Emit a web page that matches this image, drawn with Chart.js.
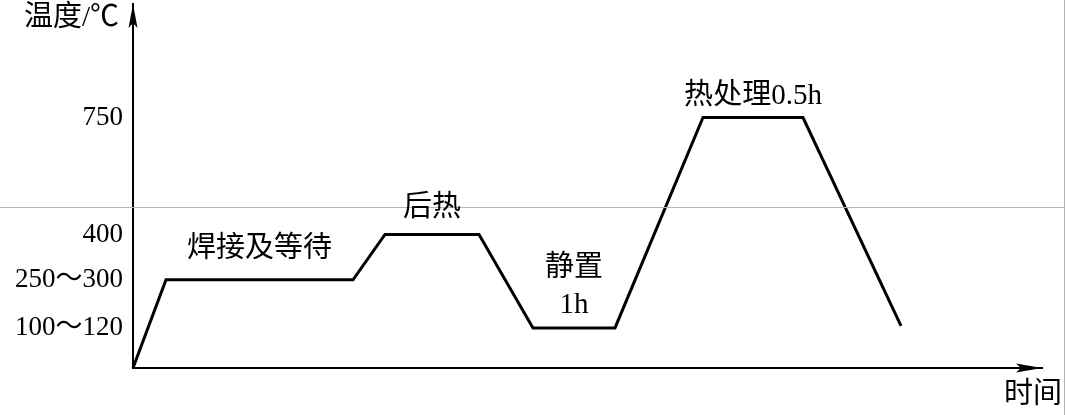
<!DOCTYPE html>
<html>
<head>
<meta charset="utf-8">
<script src="https://cdn.jsdelivr.net/npm/chart.js@4"></script>
<style>
    html, body { margin: 0; padding: 0; background: #fff; }
    #wrap { width: 1066px; height: 415px; position: relative; }
</style>
</head>
<body>
<div id="wrap"><canvas id="processChart"></canvas></div>
<script>
// --- Data (time in arbitrary units, temperature in °C as drawn) ---
const timePoints = [0, 3.3, 22.0, 25.2, 34.6, 40.0, 48.2, 57.0, 67.0, 76.8];
const tempPoints = [0, 264, 264, 400, 400, 120, 120, 750, 750, 126];
const tickValues = [120, 264, 400, 750];
const tickLabels = ['100～120', '250～300', '400', '750'];

// stage labels: text, point index pair of the plateau they sit over
const stageTexts = ['焊接及等待', '后热', '静置', '1h', '热处理0.5h'];
const stagePlateaus = [[1, 2], [3, 4], [5, 6], [5, 6], [7, 8]];

const CJK = "'Liberation Serif', 'Noto Sans CJK SC', serif";

// --- Decorations: axis arrows, titles, stage texts ---
const decorPlugin = {
    id: 'decor',
    afterDatasetsDraw(chart) {
        const { ctx, chartArea, scales } = chart;
        const x = scales.x, y = scales.y;
        ctx.save();

        // faint scan line across the page
        ctx.strokeStyle = '#b4b4b4';
        ctx.lineWidth = 1;
        ctx.beginPath();
        ctx.moveTo(0, 207.5);
        ctx.lineTo(1064, 207.5);
        ctx.moveTo(1064.5, 0);
        ctx.lineTo(1064.5, 415);
        ctx.stroke();

        // arrow heads
        ctx.fillStyle = '#000';
        const ax = chartArea.left, ay = chartArea.bottom;
        ctx.beginPath();
        ctx.moveTo(ax, chartArea.top);
        ctx.lineTo(ax + 4.5, chartArea.top + 24);
        ctx.lineTo(ax, chartArea.top + 19);
        ctx.lineTo(ax - 4.5, chartArea.top + 24);
        ctx.closePath();
        ctx.fill();
        ctx.beginPath();
        ctx.moveTo(chartArea.right, ay);
        ctx.lineTo(chartArea.right - 26, ay - 4.5);
        ctx.lineTo(chartArea.right - 21, ay);
        ctx.lineTo(chartArea.right - 26, ay + 4.5);
        ctx.closePath();
        ctx.fill();

        // axis titles
        ctx.font = '29px ' + CJK;
        ctx.textBaseline = 'middle';
        ctx.textAlign = 'right';
        ctx.fillText('温度/℃', ax - 14, 18);
        ctx.fillText('时间', 1062, 395);

        // stage texts over plateaus
        const offsets = [-30, -26, -60, -23, -21];
        ctx.font = '29px ' + CJK;
        ctx.textAlign = 'center';
        stageTexts.forEach((txt, i) => {
            const [a, b] = stagePlateaus[i];
            const cx = (x.getPixelForValue(timePoints[a]) + x.getPixelForValue(timePoints[b])) / 2;
            const cy = y.getPixelForValue(tempPoints[a]) + offsets[i];
            ctx.fillText(txt, cx, cy);
        });
        ctx.restore();
    }
};

new Chart(document.getElementById('processChart').getContext('2d'), {
    type: 'line',
    data: {
        datasets: [{
            data: timePoints.map((t, i) => ({ x: t, y: tempPoints[i] })),
            borderColor: '#000',
            borderWidth: 3,
            pointRadius: 0,
            tension: 0,
            fill: false,
            clip: false
        }]
    },
    options: {
        responsive: true,
        maintainAspectRatio: false,
        animation: false,
        layout: { padding: { top: 4, right: 24, bottom: 0, left: 0 } },
        plugins: { legend: { display: false }, tooltip: { enabled: false } },
        scales: {
            x: {
                type: 'linear',
                min: 0,
                max: 90.9,
                grid: { display: false, drawTicks: false },
                border: { display: true, color: '#000', width: 2 },
                ticks: { display: false },
                afterFit: s => { s.height = 47; s.paddingLeft = 0; s.paddingRight = 0; }
            },
            y: {
                type: 'linear',
                min: 0,
                max: 1090,
                grid: { display: false, drawTicks: false },
                border: { display: true, color: '#000', width: 2 },
                afterBuildTicks: s => { s.ticks = tickValues.map(v => ({ value: v })); },
                ticks: {
                    color: '#000',
                    padding: 10,
                    font: { family: CJK, size: 27 },
                    callback: v => tickLabels[tickValues.indexOf(v)]
                },
                afterFit: s => { s.width = 133; s.paddingTop = 0; s.paddingBottom = 0; }
            }
        }
    },
    plugins: [decorPlugin]
});
</script>
</body>
</html>
